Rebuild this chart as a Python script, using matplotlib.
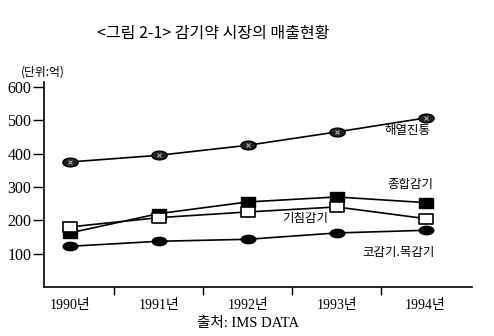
#!/usr/bin/env python3

import matplotlib
matplotlib.use('Agg')
import matplotlib.pyplot as plt
from matplotlib.path import Path
from matplotlib.transforms import Affine2D

KR = ['Noto Sans CJK KR', 'DejaVu Sans']
NUM = ['Liberation Serif', 'Noto Sans CJK KR']

years = ['1990년', '1991년', '1992년', '1993년', '1994년']
antipyretic = [375, 395, 425, 465, 507]     # 해열진통
combined = [162, 220, 255, 270, 253]        # 종합감기
cough = [180, 208, 225, 240, 205]           # 기침감기
nose_throat = [122, 137, 143, 162, 170]     # 코감기.목감기
yticks = [100, 200, 300, 400, 500, 600]


def shape(path, sx, sy, dx=0.0, dy=0.0):
    return Path(path.vertices, path.codes).transformed(
        Affine2D().translate(dx, dy).scale(sx, sy))


def main():
    ellipse = shape(Path.unit_circle(), 1.75, 1.0)
    rect = shape(Path.unit_rectangle(), 1.4, 1.0, -0.5, -0.5)

    fig = plt.figure(figsize=(4.94, 3.36), dpi=100)
    ax = fig.add_axes([0.089, 0.146, 0.866, 0.61])
    x = list(range(len(years)))

    ax.plot(x, antipyretic, color='black', lw=1.2, marker=ellipse, ms=11,
            mfc='#222222', mec='black')
    ax.plot(x, antipyretic, ls='none', marker='x', ms=3.5, mec='#aaaaaa', mew=0.8)
    ax.plot(x, combined, color='black', lw=1.2, marker=rect, ms=10.5,
            mfc='black', mec='black')
    ax.plot(x, cough, color='black', lw=1.2, marker=rect, ms=10.5,
            mfc='white', mec='black', mew=1.2)
    ax.plot(x, nose_throat, color='black', lw=1.2, marker=ellipse, ms=10.5,
            mfc='black', mec='black')

    ax.text(3.8, 470, '해열진통', family=KR, fontsize=9, ha='center', va='center')
    ax.text(3.83, 307, '종합감기', family=KR, fontsize=9, ha='center', va='center')
    ax.text(2.65, 205, '기침감기', family=KR, fontsize=9, ha='center', va='center')
    ax.text(3.7, 102, '코감기.목감기', family=KR, fontsize=9, ha='center', va='center')

    ax.set_xlim(-0.29, 4.52)
    ax.set_ylim(0, 615)
    ax.set_yticks(yticks)
    ax.set_yticklabels([str(v) for v in yticks], family=NUM, fontsize=11.5)
    ax.set_xticks([i + 0.5 for i in range(4)])
    ax.set_xticklabels([])
    ax.set_xticks(x, minor=True)
    ax.set_xticklabels(years, minor=True, family=NUM, fontsize=10)
    ax.tick_params(axis='y', length=8, width=1, direction='out', pad=1)
    ax.tick_params(axis='x', which='major', length=6, width=1, direction='out')
    ax.tick_params(axis='x', which='minor', length=0, pad=9)

    for side in ('top', 'right'):
        ax.spines[side].set_visible(False)
    ax.spines['left'].set_linewidth(1.2)
    ax.spines['bottom'].set_linewidth(1.2)

    fig.text(0.431, 0.9, '<그림 2-1> 감기약 시장의 매출현황', family=KR,
             fontsize=11.5, ha='center', va='center')
    fig.text(0.087, 0.785, '(단위:억)', family=KR, fontsize=8.5, ha='center', va='center')
    fig.text(0.502, 0.038, '출처: IMS DATA', family=NUM, fontsize=10.5, ha='center', va='center')

    fig.savefig('out.png', dpi=100)


if __name__ == '__main__':
    main()
